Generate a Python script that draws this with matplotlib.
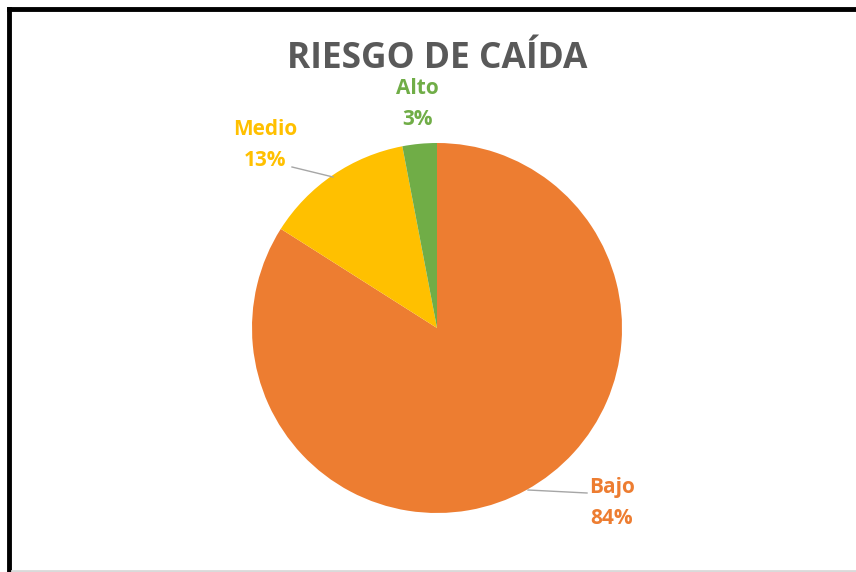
import matplotlib
matplotlib.use("Agg")
import matplotlib.pyplot as plt
from matplotlib.lines import Line2D

# Data
categorias = ["Bajo", "Medio", "Alto"]
porcentajes = [84, 13, 3]
colores = ["#ED7D31", "#FFC000", "#70AD47"]

plt.rcParams["font.family"] = ["Open Sans", "DejaVu Sans"]

fig = plt.figure(figsize=(8.56, 5.72), dpi=100)
W, H = 856, 572

# pie axes placed so the circle sits where the reference has it
cx, cy, r = 437, 328, 185
ax = fig.add_axes([(cx - r) / W, (H - cy - r) / H, 2 * r / W, 2 * r / H])
ax.pie(porcentajes, colors=colores, startangle=90, counterclock=False,
       radius=1, wedgeprops=dict(linewidth=0))
ax.set_xlim(-1, 1)
ax.set_ylim(-1, 1)
ax.set_aspect("equal")
ax.axis("off")

# data labels (positions in pie units)
pos = {"Bajo": (0.946, -0.946), "Medio": (-0.93, 0.99), "Alto": (-0.108, 1.21)}
for cat, val, col in zip(categorias, porcentajes, colores):
    x, y = pos[cat]
    ax.text(x, y, f"{cat}\n{val}%", color=col, fontsize=15, fontweight="bold",
            ha="center", va="center", linespacing=1.6, clip_on=False)

# leader lines
def px(x, y):
    return ((x - cx) / r, (cy - y) / r)

for (x0, y0), (x1, y1) in [((292, 167), (333, 177)), ((528, 490), (587, 493))]:
    a, b = px(x0, y0), px(x1, y1)
    ax.plot([a[0], b[0]], [a[1], b[1]], color="#A6A6A6", lw=1, clip_on=False)

fig.text(437 / W, 1 - 59 / H, "RIESGO DE CAÍDA", color="#595959", fontsize=25.5,
         fontweight="bold", ha="center", va="center")

# frame: thick black left/top, light grey bottom
fig.add_artist(Line2D([9 / W, 9 / W], [0, 1 - 9 / H], color="black", lw=3.5,
                      transform=fig.transFigure, solid_capstyle="projecting"))
fig.add_artist(Line2D([9 / W, 1], [1 - 9 / H, 1 - 9 / H], color="black", lw=3.5,
                      transform=fig.transFigure, solid_capstyle="projecting"))
fig.add_artist(Line2D([12 / W, 1], [1.5 / H, 1.5 / H], color="#D9D9D9", lw=2,
                      transform=fig.transFigure))

fig.savefig("out.png", dpi=100)
